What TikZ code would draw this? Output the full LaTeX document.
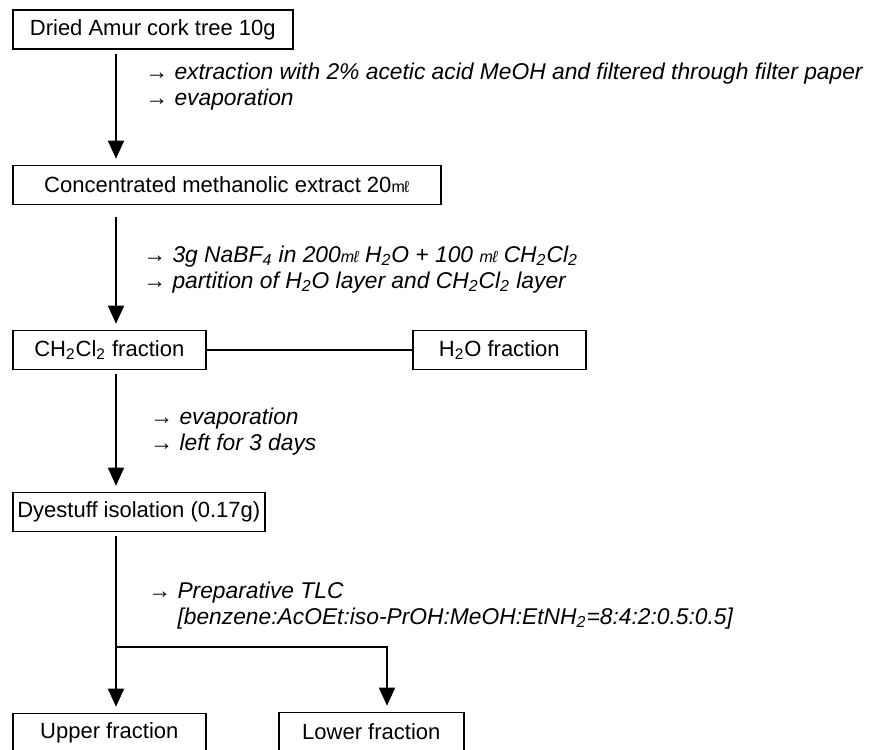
\documentclass[tikz,border=0pt]{standalone}
\usepackage{fontspec}
\setmainfont{Liberation Sans}
\usepackage{tikz}
\usetikzlibrary{arrows.meta}

\newcommand{\boxfont}{\fontsize{11}{13}\selectfont}
\newcommand{\notefont}{\fontsize{11.4}{13}\selectfont\itshape}
\newcommand{\ml}{{\fontsize{8}{8}\selectfont m\kern-0.3pt ℓ}}

\begin{document}
\begin{tikzpicture}
  [
    x=0.5pt, y=-0.5pt,
    >={Triangle[length=9pt,width=8pt]},
    box/.style  = {draw, line width=0.8pt, anchor=west, minimum height=19.5pt, inner sep=0pt, font=\boxfont},
    note/.style = {anchor=base west, align=left, inner sep=0pt, font=\notefont},
    flow/.style = {->, line width=0.8pt, shorten >=3pt, shorten <=2pt},
  ]

%Page frame of the scan
\useasboundingbox (0,0) rectangle (871,749);

%x of the main trunk and of the second branch
\def \xtrunk{116}
\def \xbranch{387}
\def \ysplit{647}

\coordinate (trunk) at (\xtrunk,0);

%Boxes of the scheme
\node[box, minimum width=140pt] (dried) at (12,29.5) {Dried Amur cork tree 10g};
\node[box, minimum width=214pt] (conc)  at (12,185)  {Concentrated methanolic extract 20\ml};
\node[box, minimum width=96.5pt] (ch)   at (12,350)  {CH\textsubscript{2}Cl\textsubscript{2} fraction};
\node[box, minimum width=86.5pt] (water) at (412,350) {H\textsubscript{2}O fraction};
\node[box, minimum width=126pt] (dye)   at (12,512)  {Dyestuff isolation (0.17g)};
\node[box, minimum width=96.5pt] (upper) at (12,733) {Upper fraction};
\node[box, minimum width=92.5pt] (lower) at (278,732) {Lower fraction};

%Notes beside the arrows (placed at the baseline of their last line)
\node[note] (n1) at (145,105)
  {→ extraction with 2\% acetic acid MeOH and filtered through filter paper\\
   → evaporation};
\node[note] (n2) at (143,288)
  {→ 3g NaBF\textsubscript{4} in 200\ml{} H\textsubscript{2}O + 100 \ml{} CH\textsubscript{2}Cl\textsubscript{2}\\
   → partition of H\textsubscript{2}O layer and CH\textsubscript{2}Cl\textsubscript{2} layer};
\node[note] (n3) at (150,450)
  {→ evaporation\\
   → left for 3 days};
\node[note] (n4) at (148,624)
  {→ Preparative TLC\\
   \phantom{→\ }[benzene:AcOEt:iso-PrOH:MeOH:EtNH\textsubscript{2}=8:4:2:0.5:0.5]};

%Arrows down the trunk
\draw[flow] (dried.south -| trunk) -- (conc.north -| trunk);
\draw[flow, shorten <=6pt] (conc.south -| trunk) -- (ch.north -| trunk);
\foreach \a/\b in {ch/dye, dye/upper}
{
\draw[flow] (\a.south -| trunk) -- (\b.north -| trunk);
}

%Side branches
\draw[line width=0.8pt] (ch.east) -- (water.west);
\coordinate (split) at (\xtrunk,\ysplit);
\coordinate (rsplit) at (\xbranch,\ysplit);
\draw[flow, shorten <=0pt] (split) -- (rsplit) -- (lower.north -| rsplit);
\end{tikzpicture}
\end{document}
